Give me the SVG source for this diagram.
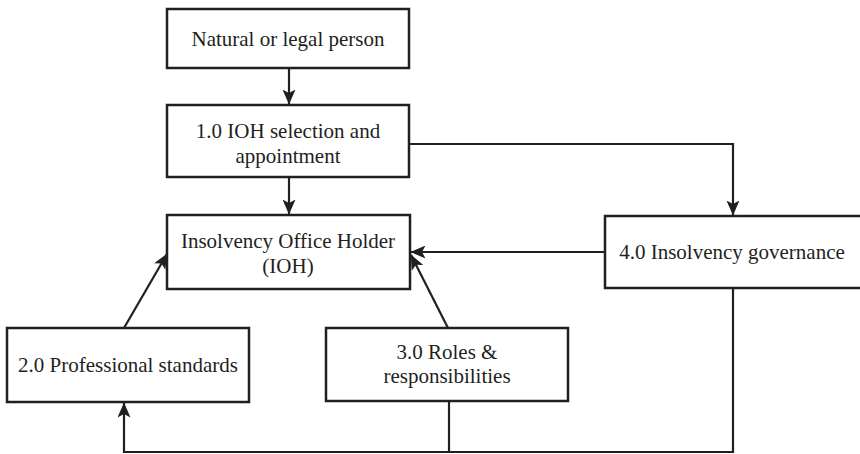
<svg xmlns="http://www.w3.org/2000/svg" width="860" height="454" viewBox="0 0 860 454">
<defs>
<style>
.box{fill:#fff;stroke:#231f20;stroke-width:2.5}
.lbl{font-size:21px;fill:#231f20;text-anchor:middle}
.con{fill:none;stroke:#231f20;stroke-width:2.2}
.arr{marker-end:url(#ah)}
</style>
<marker id="ah" markerUnits="userSpaceOnUse" markerWidth="15" markerHeight="13" viewBox="0 0 15 13" refX="14.5" refY="6.5" orient="auto">
<path d="M0,0 L15,6.5 L0,13 L3.5,6.5 Z" fill="#231f20"/>
</marker>
</defs>
<rect width="860" height="454" fill="#fff"/>
<g id="connectors">
<path class="con arr" d="M289,68 V104"/>
<path class="con arr" d="M289,177 V214"/>
<path class="con arr" d="M409,144 H733 V215"/>
<path class="con arr" d="M605,252 H411"/>
<path class="con arr" d="M124,328 L167,254"/>
<path class="con arr" d="M448,328 L411,255"/>
<path class="con arr" d="M733,288 V452 H124 V403"/>
<path class="con" d="M449,401 V452"/>
</g>
<g font-family="Liberation Serif, serif">
<g id="natural">
<rect class="box" x="167" y="9" width="242" height="59"/>
<text class="lbl" x="288" y="46">Natural or legal person</text>
</g>
<g id="n1">
<rect class="box" x="167" y="105" width="242" height="72"/>
<text class="lbl" x="288" y="138">1.0 IOH selection and</text>
<text class="lbl" x="288" y="163">appointment</text>
</g>
<g id="ioh">
<rect class="box" x="167" y="215" width="243" height="74"/>
<text class="lbl" x="288" y="248">Insolvency Office Holder</text>
<text class="lbl" x="288" y="273">(IOH)</text>
</g>
<g id="n2">
<rect class="box" x="7" y="328" width="242" height="74"/>
<text class="lbl" x="128" y="372">2.0 Professional standards</text>
</g>
<g id="n3">
<rect class="box" x="326" y="328" width="242" height="73"/>
<text class="lbl" x="447" y="359">3.0 Roles &amp;</text>
<text class="lbl" x="447" y="383">responsibilities</text>
</g>
<g id="n4">
<rect class="box" x="605" y="216" width="262" height="72"/>
<text class="lbl" x="732" y="259">4.0 Insolvency governance</text>
</g>
</g>
</svg>
